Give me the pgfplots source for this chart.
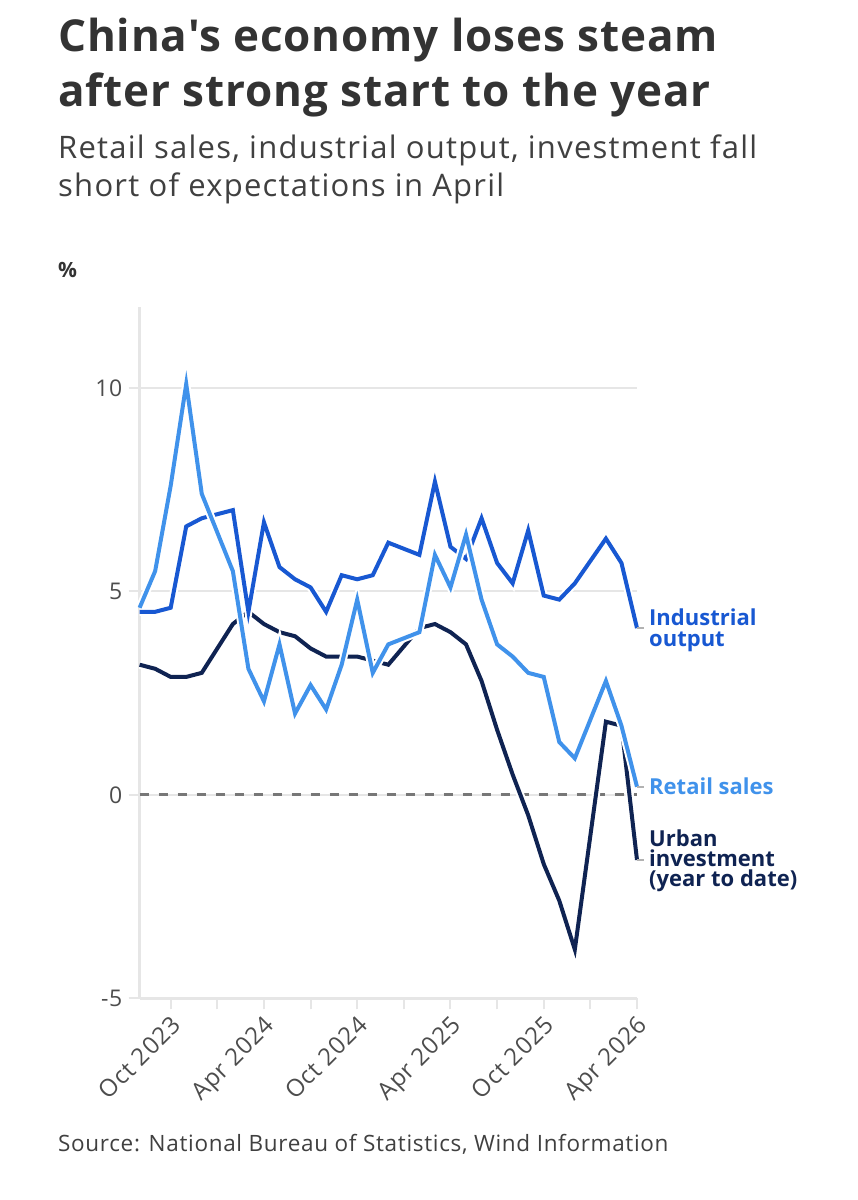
\documentclass[border=0pt]{standalone}
\usepackage{fontspec}
\setmainfont{Open Sans}
\newfontfamily\titlefont[LetterSpace=2]{Open Sans}
\newfontfamily\subfont[LetterSpace=4]{Open Sans}
\newfontfamily\srcfont[LetterSpace=3]{Open Sans}
\newfontfamily\tickfont[LetterSpace=3]{Open Sans}
\usepackage{pgfplots}
\usepackage{pgfplotstable}
\pgfplotsset{compat=1.18}
\definecolor{ind}{HTML}{1858D2}
\definecolor{ret}{HTML}{4092EB}
\definecolor{inv}{HTML}{0F2352}
\definecolor{titlec}{HTML}{333333}
\definecolor{subc}{HTML}{404040}
\definecolor{gridc}{HTML}{E6E6E6}
\definecolor{tickc}{HTML}{4D4D4D}
\definecolor{zeroc}{HTML}{777777}

% month index: 0 = Aug 2023 ... 32 = Apr 2026 (January values not published)
\pgfplotstableread{
m v
0 4.6
1 5.5
2 7.6
3 10.1
4 7.4
6 5.5
7 3.1
8 2.3
9 3.7
10 2.0
11 2.7
12 2.1
13 3.2
14 4.8
15 3.0
16 3.7
18 4.0
19 5.9
20 5.1
21 6.4
22 4.8
23 3.7
24 3.4
25 3.0
26 2.9
27 1.3
28 0.9
30 2.8
31 1.7
32 0.2
}\retail

\pgfplotstableread{
m v
0 4.5
1 4.5
2 4.6
3 6.6
4 6.8
6 7.0
7 4.5
8 6.7
9 5.6
10 5.3
11 5.1
12 4.5
13 5.4
14 5.3
15 5.4
16 6.2
18 5.9
19 7.7
20 6.1
21 5.8
22 6.8
23 5.7
24 5.2
25 6.5
26 4.9
27 4.8
28 5.2
30 6.3
31 5.7
32 4.1
}\industrial

\pgfplotstableread{
m v
0 3.2
1 3.1
2 2.9
3 2.9
4 3.0
6 4.2
7 4.5
8 4.2
9 4.0
10 3.9
11 3.6
12 3.4
13 3.4
14 3.4
15 3.3
16 3.2
18 4.1
19 4.2
20 4.0
21 3.7
22 2.8
23 1.6
24 0.5
25 -0.5
26 -1.7
27 -2.6
28 -3.8
30 1.8
31 1.7
32 -1.6
}\investment

\begin{document}
\begin{tikzpicture}
\useasboundingbox (0,0) rectangle (858bp,-1200bp);
\fill[white] (0,0) rectangle (858bp,-1200bp);
% titles
\node[anchor=base west, inner sep=0, text=titlec, font=\titlefont\fontsize{44bp}{55bp}\selectfont\bfseries] at (58bp,-51.7bp) {China's economy loses steam};
\node[anchor=base west, inner sep=0, text=titlec, font=\titlefont\fontsize{44bp}{55bp}\selectfont\bfseries] at (58bp,-106.7bp) {after strong start to the year};
\node[anchor=base west, inner sep=0, text=subc, font=\subfont\fontsize{31bp}{38bp}\selectfont] at (58bp,-158.3bp) {Retail sales, industrial output, investment fall};
\node[anchor=base west, inner sep=0, text=subc, font=\subfont\fontsize{31bp}{38bp}\selectfont] at (58bp,-196.7bp) {short of expectations in April};
\node[anchor=base west, inner sep=0, text=titlec, font=\fontsize{21bp}{24bp}\selectfont\bfseries] at (58bp,-277bp) {\%};
\node[anchor=base west, inner sep=0, text=subc, font=\srcfont\fontsize{22.5bp}{26bp}\selectfont] at (58bp,-1151.7bp) {Source: National Bureau of Statistics, Wind Information};
% series labels
\node[anchor=base west, inner sep=0, text=ind, font=\fontsize{22bp}{21bp}\selectfont\bfseries] at (649bp,-625bp) {Industrial};
\node[anchor=base west, inner sep=0, text=ind, font=\fontsize{22bp}{21bp}\selectfont\bfseries] at (649bp,-646bp) {output};
\node[anchor=base west, inner sep=0, text=ret, font=\fontsize{22bp}{21bp}\selectfont\bfseries] at (649bp,-794bp) {Retail sales};
\node[anchor=base west, inner sep=0, text=inv, font=\fontsize{22bp}{21bp}\selectfont\bfseries] at (649bp,-846.7bp) {Urban};
\node[anchor=base west, inner sep=0, text=inv, font=\fontsize{22bp}{21bp}\selectfont\bfseries] at (649bp,-866.7bp) {investment};
\node[anchor=base west, inner sep=0, text=inv, font=\fontsize{22bp}{21bp}\selectfont\bfseries] at (649bp,-886.7bp) {(year to date)};

\begin{axis}[
  at={(139.6bp,-998.3bp)}, anchor=south west,
  scale only axis, width=497.4bp, height=691.6bp,
  xmin=0, xmax=32, ymin=-5, ymax=12,
  axis x line*=bottom, axis y line*=left,
  axis line style={gridc, line width=2.5bp, -},
  ytick={-5,0,5,10}, yticklabels={-5,0,5,10},
  ymajorgrids, grid style={gridc, line width=2bp},
  xtick={2,8,...,32},
  xticklabels={Oct 2023,Apr 2024,Oct 2024,Apr 2025,Oct 2025,Apr 2026},
  minor xtick={5,11,...,29},
  tick align=outside, major tick length=11bp, minor tick length=11bp,
  tick style={gridc, line width=2bp},
  minor tick style={gridc, line width=2bp},
  yticklabel style={font=\tickfont\fontsize{23bp}{23bp}\selectfont, text=tickc, anchor=east, inner sep=0pt, xshift=-6bp},
  xticklabel style={font=\tickfont\fontsize{24bp}{24bp}\selectfont, text=tickc, rotate=45, anchor=north east, inner sep=0pt, xshift=-4bp, yshift=-3bp},
  no markers, clip=false,
]
\addplot[zeroc, line width=3bp, dash pattern=on 9bp off 10bp, forget plot] coordinates {(0,0) (32,0)};
\addplot[white, line width=8bp, forget plot] table[x=m,y=v] {\investment};
\addplot[inv, line width=4bp] table[x=m,y=v] {\investment};
\addplot[white, line width=8bp, forget plot] table[x=m,y=v] {\industrial};
\addplot[ind, line width=4bp] table[x=m,y=v] {\industrial};
\addplot[white, line width=8bp, forget plot] table[x=m,y=v] {\retail};
\addplot[ret, line width=4bp] table[x=m,y=v] {\retail};
\draw[gray!60, line width=1.5bp] (axis cs:32,4.1) -- ++(7bp,0bp);
\draw[gray!60, line width=1.5bp] (axis cs:32,0.2) -- ++(7bp,0bp);
\draw[gray!60, line width=1.5bp] (axis cs:32,-1.6) -- ++(7bp,0bp);
\end{axis}
\end{tikzpicture}
\end{document}
